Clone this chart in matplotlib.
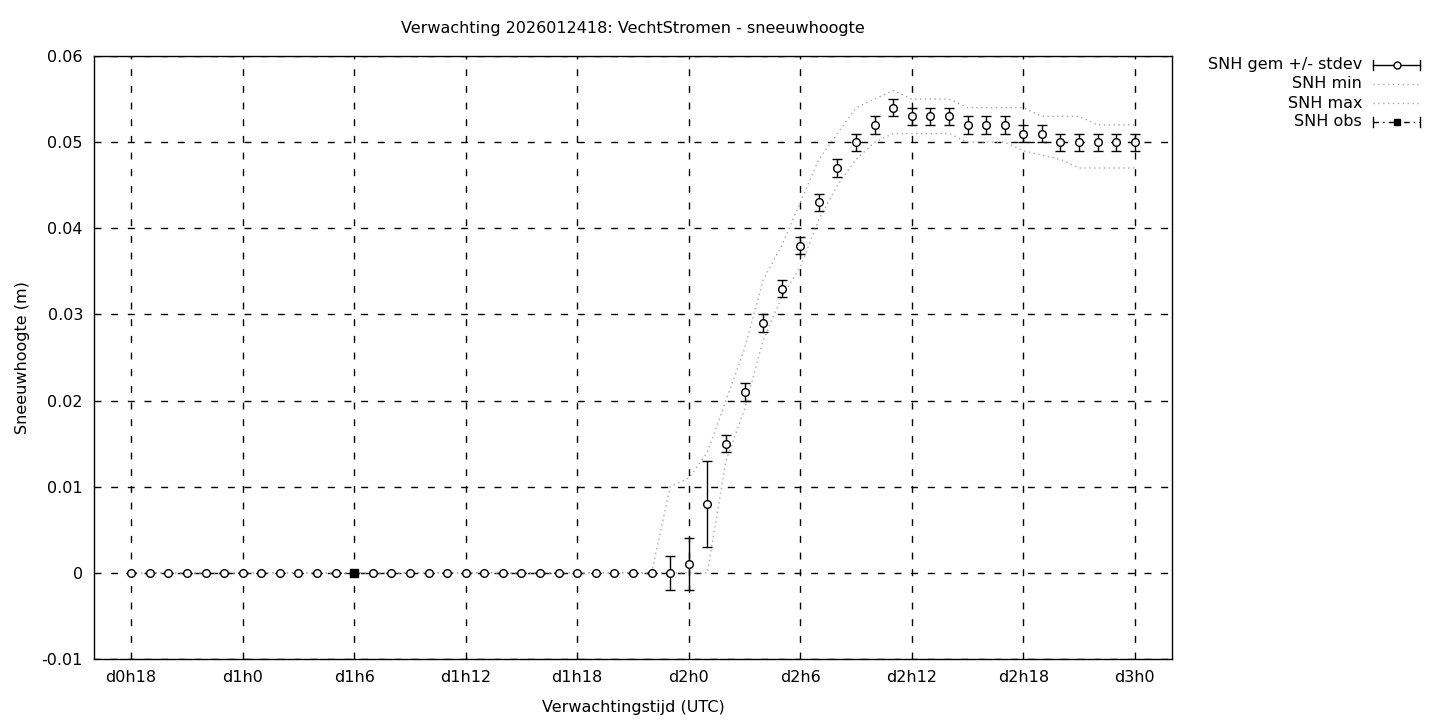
import matplotlib
matplotlib.use('Agg')
import matplotlib.pyplot as plt
from matplotlib.lines import Line2D

# forecast hours (d0h18 .. d3h0)
hours = list(range(18, 73))

snh_mean = [0.0] * 29 + [0.0, 0.001, 0.008, 0.015, 0.021, 0.029, 0.033, 0.038,
                         0.043, 0.047, 0.050, 0.052, 0.054, 0.053, 0.053, 0.053,
                         0.052, 0.052, 0.052, 0.051, 0.051, 0.050, 0.050, 0.050,
                         0.050, 0.050]
snh_std = [0.0] * 29 + [0.002, 0.003, 0.005] + [0.001] * 23
snh_min = [0.0] * 31 + [0.0, 0.013, 0.019, 0.027, 0.032, 0.0355, 0.041, 0.045,
                        0.048, 0.050, 0.051, 0.051, 0.051, 0.051, 0.050, 0.050,
                        0.050, 0.049, 0.0485, 0.048, 0.047, 0.047, 0.047, 0.047]
snh_max = [0.0] * 28 + [0.0, 0.010, 0.011, 0.014, 0.020, 0.026, 0.034, 0.038,
                        0.043, 0.048, 0.051, 0.054, 0.055, 0.056, 0.055, 0.055,
                        0.055, 0.054, 0.054, 0.054, 0.054, 0.053, 0.053, 0.053,
                        0.052, 0.052, 0.052]
obs_hours = [30]
obs_vals = [0.0]
obs_err = [0.0]

tick_hours = list(range(18, 73, 6))
tick_labels = ['d%dh%d' % (h // 24, h % 24) for h in tick_hours]

plt.rcParams['font.family'] = 'DejaVu Sans'
plt.rcParams['font.size'] = 11.5

fig = plt.figure(figsize=(14.4, 7.2), dpi=100)
ax = fig.add_axes([94 / 1440, 1 - 659 / 720, (1172 - 94) / 1440, (659 - 56) / 720])

ax.plot(hours, snh_min, color='#a8a8a8', linestyle=(0, (1, 2.5)), linewidth=1)
ax.plot(hours, snh_max, color='#a8a8a8', linestyle=(0, (1, 2.5)), linewidth=1)
ax.errorbar(hours, snh_mean, yerr=snh_std, fmt='o', color='black', mfc='white',
            mec='black', markersize=5.5, mew=1, elinewidth=1, capsize=3.5, capthick=1)
ax.errorbar(obs_hours, obs_vals, yerr=obs_err, fmt='s', color='black',
            markersize=5.5, capsize=0)

ax.set_xlim(16, 74)
ax.set_ylim(-0.01, 0.06)
ax.set_xticks(tick_hours)
ax.set_xticklabels(tick_labels)
ax.set_yticks([-0.01, 0, 0.01, 0.02, 0.03, 0.04, 0.05, 0.06])
ax.set_yticklabels(['-0.01', '0', '0.01', '0.02', '0.03', '0.04', '0.05', '0.06'])
ax.tick_params(length=0, pad=8, labelsize=11.5)
ax.grid(True, color='black', linestyle=(0, (5, 7)), linewidth=1)
for s in ax.spines.values():
    s.set_linewidth(1)

ax.set_xlabel('Verwachtingstijd (UTC)', fontsize=11.5, labelpad=11)
ax.set_ylabel('Sneeuwhoogte (m)', fontsize=11.5, labelpad=8)
fig.text(633 / 1440, 1 - 29 / 720, 'Verwachting 2026012418: VechtStromen - sneeuwhoogte',
         ha='center', va='center', fontsize=11.5)

# legend, gnuplot-style: right-aligned text with sample to the right
labels = ['SNH gem +/- stdev', 'SNH min', 'SNH max', 'SNH obs']
for i, lab in enumerate(labels):
    y = 1 - (65 + i * 19) / 720
    fig.text(1362 / 1440, y, lab, ha='right', va='center', fontsize=11.5)
x0, x1 = 1373 / 1440, 1420 / 1440
xm = (x0 + x1) / 2
yl = [1 - (65 + i * 19) / 720 for i in range(4)]
fig.add_artist(Line2D([x0, x1], [yl[0]] * 2, color='black', lw=1))
fig.add_artist(Line2D([x0, x0], [yl[0] - 0.007, yl[0] + 0.007], color='black', lw=1))
fig.add_artist(Line2D([x1, x1], [yl[0] - 0.007, yl[0] + 0.007], color='black', lw=1))
fig.add_artist(Line2D([xm], [yl[0]], marker='o', mfc='white', mec='black', ms=5, ls=''))
for k in (1, 2):
    fig.add_artist(Line2D([x0, x1], [yl[k]] * 2, color='#a8a8a8', lw=1, ls=(0, (1, 2.5))))
fig.add_artist(Line2D([x0, x1], [yl[3]] * 2, color='black', lw=1, ls=(0, (4, 3, 1, 3))))
fig.add_artist(Line2D([x0, x0], [yl[3] - 0.007, yl[3] + 0.007], color='black', lw=1))
fig.add_artist(Line2D([x1, x1], [yl[3] - 0.007, yl[3] + 0.007], color='black', lw=1))
fig.add_artist(Line2D([xm], [yl[3]], marker='s', color='black', ms=5, ls=''))

fig.savefig('out.png', dpi=100)
